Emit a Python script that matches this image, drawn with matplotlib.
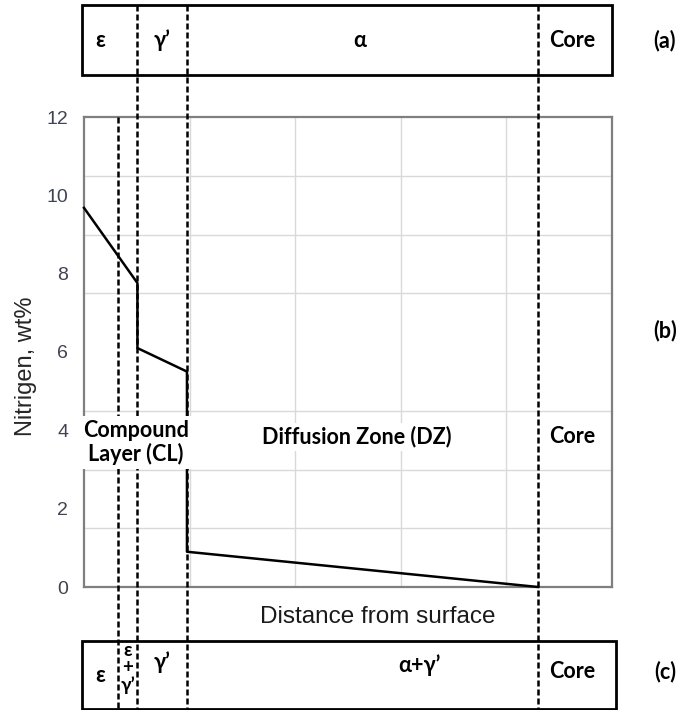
import numpy as np
import matplotlib
matplotlib.use("Agg")
import matplotlib.pyplot as plt
from matplotlib.patches import Rectangle

# ============ DATA ============
# nitrogen profile (distance in arbitrary units, N in wt%)
dist = [0.0, 0.506, 0.506, 0.975, 0.975, 4.30]
nitrogen = [9.68, 7.76, 6.10, 5.50, 0.90, 0.00]

# phase boundaries (same distance units)
b_eps = 0.322      # eps | eps+gamma' (only in bottom box)
b_gam = 0.506      # eps | gamma'
b_cl = 0.975       # compound layer | diffusion zone
b_core = 4.30      # diffusion zone | core

yticks = [0, 2, 4, 6, 8, 10, 12]

top_labels = ["ε", "γ’", "α", "Core"]
top_x = [0.15, 0.74, 2.61, 4.62]
bot_labels = ["ε", "γ’", "α+γ’", "Core"]
bot_x = [0.15, 0.74, 3.18, 4.62]
bot_y = [-2.25, -1.91, -1.99, -2.17]
mix_labels = ["ε", "+", "γ’"]
mix_y = [-1.63, -2.05, -2.50]

BOLD = ["Lato", "DejaVu Sans"]
REG = ["Liberation Sans", "DejaVu Sans"]
FS = 15.5

fig = plt.figure(figsize=(6.86, 7.1), dpi=100)
ax = fig.add_axes([84 / 686, 1 - 587 / 710, 528 / 686, 470 / 710])
ax.set_xlim(0, 5)
ax.set_ylim(0, 12)

# grid: vertical every 1, horizontal every 1.5
ax.set_xticks([1, 2, 3, 4])
ax.set_xticklabels([])
ax.set_yticks(yticks)
ax.set_yticks(np.arange(0, 12.1, 1.5), minor=True)
ax.tick_params(axis="both", which="both", length=0)
ax.tick_params(axis="y", labelsize=14, labelcolor="#3f4450", pad=11.5)
for lab in ax.get_yticklabels():
    lab.set_family(REG)
ax.grid(axis="x", which="major", color="#d9d9d9", lw=1)
ax.grid(axis="y", which="minor", color="#d9d9d9", lw=1)
for s in ax.spines.values():
    s.set_color("#7f7f7f")
    s.set_linewidth(1.6)

ax.plot(dist, nitrogen, color="black", lw=1.8, zorder=4, clip_on=False)

# dashed phase boundaries across all panels
y_top, y_bot = 14.86, -3.11
dash = dict(color="black", lw=1.8, ls=(0, (2.4, 1.2)), zorder=3, clip_on=False)
ax.plot([b_eps, b_eps], [12, y_bot], **dash)
for b in (b_gam, b_cl, b_core):
    ax.plot([b, b], [y_top, y_bot], **dash)

# boxes (a) and (c)
ax.add_patch(Rectangle((-0.02, 13.07), 5.02, 1.79, fill=False, ec="black",
                       lw=2, clip_on=False, zorder=5))
ax.add_patch(Rectangle((-0.02, -3.11), 5.06, 1.73, fill=False, ec="black",
                       lw=2, clip_on=False, zorder=5))

for lab, x in zip(top_labels, top_x):
    ax.text(x, 13.96, lab, ha="center", va="center", fontsize=FS,
            fontweight="bold", family=BOLD, clip_on=False)
for lab, x, y in zip(bot_labels, bot_x, bot_y):
    ax.text(x, y, lab, ha="center", va="center", fontsize=FS,
            fontweight="bold", family=BOLD, clip_on=False)
for lab, y in zip(mix_labels, mix_y):
    ax.text(0.414, y, lab, ha="center", va="center", fontsize=13.5,
            fontweight="bold", family=BOLD, clip_on=False)

for lab, y in (("(a)", 13.96), ("(b)", 6.56), ("(c)", -2.17)):
    ax.text(5.50, y, lab, ha="center", va="center", fontsize=FS,
            fontweight="bold", family=BOLD, clip_on=False)

# zone labels in the middle of the plot
wbox = dict(facecolor="white", edgecolor="none", pad=2)
ax.text(0.49, 3.68, "Compound\nLayer (CL)", ha="center", va="center",
        fontsize=FS, fontweight="bold", family=BOLD, linespacing=1.1,
        bbox=dict(facecolor="white", edgecolor="none", pad=3),
        zorder=7, clip_on=False)
ax.text(2.585, 3.83, "Diffusion Zone (DZ)", ha="center", va="center",
        fontsize=FS, fontweight="bold", family=BOLD, bbox=wbox, zorder=7)
ax.text(4.62, 3.83, "Core", ha="center", va="center",
        fontsize=FS, fontweight="bold", family=BOLD, bbox=wbox, zorder=7)

ax.text(2.78, -0.77, "Distance from surface", ha="center", va="center",
        fontsize=17.5, color="#1a1a1a", family=REG, clip_on=False)
ax.set_ylabel("Nitrigen, wt%", fontsize=17, color="#262626", family=REG,
              labelpad=7)
ax.yaxis.label.set_y(0.47)

fig.savefig("out.png", dpi=100)
